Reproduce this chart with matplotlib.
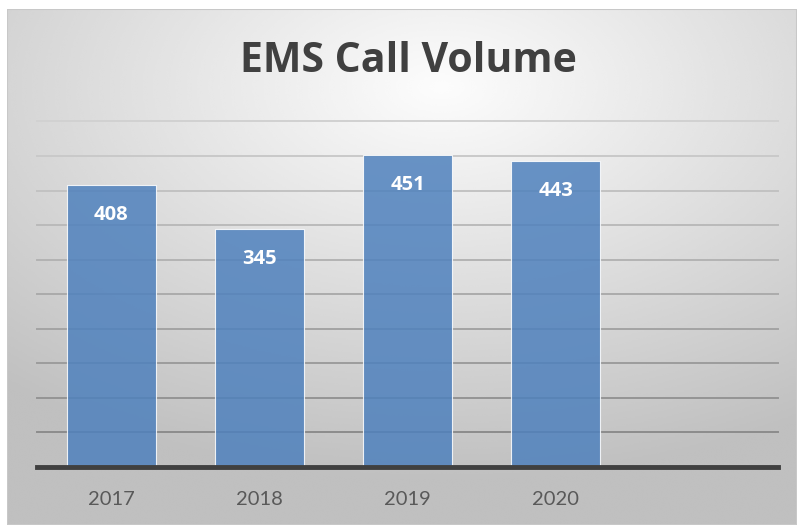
import matplotlib.pyplot as plt
import numpy as np
from matplotlib.patches import Rectangle

# data
years = ['2017', '2018', '2019', '2020', '']
calls = [408, 345, 451, 443, None]
y_max = 500
y_step = 50

W, H = 798, 525
fig = plt.figure(figsize=(W / 100, H / 100), dpi=100)
fig.patch.set_facecolor('white')

# gradient background of the chart area (radial, light near the title)
bg = fig.add_axes([7 / W, 0, (797 - 7) / W, (H - 9) / H])
bg.set_axis_off()
yy, xx = np.mgrid[0:1:300j, 0:1:450j]
r = np.sqrt(((xx - 0.55) / 1.0) ** 2 + ((yy - 0.15) / 0.9) ** 2)
shade = np.clip(0.99 - 0.28 * r, 0.75, 0.99)
bg.imshow(shade, cmap='gray', vmin=0, vmax=1, aspect='auto',
          extent=[0, 1, 1, 0], interpolation='bicubic')
bg.set_xlim(0, 1)
bg.set_ylim(1, 0)
bg.add_patch(Rectangle((0, 0), 1, 1, fill=False, edgecolor='#c8c8c8',
                       linewidth=1.5, transform=bg.transAxes))

ax = fig.add_axes([37 / W, (H - 467) / H, (778 - 37) / W, (467 - 121.5) / H])
ax.patch.set_alpha(0)
x = np.arange(len(years))
vals = [v if v is not None else 0 for v in calls]
ax.set_ylim(0, y_max)
ax.set_xlim(-0.5, len(years) - 0.5)
ax.set_yticks(np.arange(0, y_max + 1, y_step))

# gridlines get darker towards the bottom
for t in ax.get_yticks()[1:]:
    g = 0.82 - 0.30 * (1 - t / y_max)
    ax.axhline(t, color=(g, g, g), linewidth=1.4, zorder=1, clip_on=False)

bars = ax.bar(x, vals, width=0.6, color='#4F81BD', alpha=0.85,
              edgecolor='white', linewidth=0.8, zorder=2)
for b, v in zip(bars, calls):
    if v is None:
        continue
    ax.text(b.get_x() + b.get_width() / 2, v - 29, str(v), ha='center', va='top',
            color='white', fontsize=14.5, fontweight='bold', family='Open Sans', zorder=3)

ax.axhline(0, color='#404040', linewidth=3.5, zorder=4, clip_on=False)
ax.set_xticks(x)
ax.set_xticklabels(years, fontsize=14.5, color='#595959', family='Lato')
ax.tick_params(axis='x', length=0, pad=17)
ax.tick_params(axis='y', length=0, labelleft=False)
for s in ax.spines.values():
    s.set_visible(False)

fig.text(408 / W, 1 - 62 / H, 'EMS Call Volume', ha='center', va='center',
         fontsize=29.5, fontweight='bold', color='#404040', family='Open Sans')

fig.savefig('out.png', dpi=100)
